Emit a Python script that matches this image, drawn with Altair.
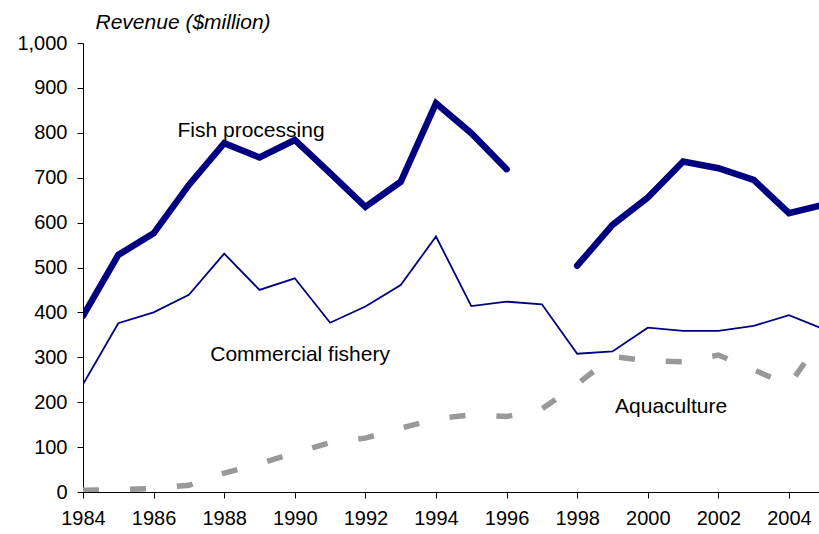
import altair as alt
import pandas as pd

# Revenue by sector, $million
years = list(range(1984, 2006))
fish_processing = [392, 528, 576, 684, 777, 745, 784, 710, 635, 691, 866, 799, 719,
                   None, 504, 595, 656, 736, 721, 695, 621, 640]
commercial_fishery = [240, 376, 400, 439, 531, 450, 476, 377, 413, 461, 569, 414, 424,
                      418, 308, 313, 366, 359, 359, 370, 394, 362]
aquaculture = [4, 5, 8, 15, 42, 63, 87, 110, 120, 142, 163, 172, 168,
               185, 240, 302, 292, 290, 305, 272, 238, 350]

# Inline series labels: (text, year, value)
label_text = ["Fish processing", "Commercial fishery", "Aquaculture"]
label_year = [1988.76, 1990.15, 2000.66]
label_value = [804, 305, 189]

FONT = "Liberation Sans"
NAVY = "#000080"
GREY = "#999999"
TICK_FS = 20
TEXT_FS = 21

# Fish processing has no 1997 figure, so split it into two runs
fp_rows = []
seg = 0
for y, v in zip(years, fish_processing):
    if v is None:
        seg += 1
        continue
    fp_rows.append({"year": y, "value": v, "seg": seg})
fp = pd.DataFrame(fp_rows)
cf = pd.DataFrame({"year": years, "value": commercial_fishery})
aq = pd.DataFrame({"year": years, "value": aquaculture})
labels = pd.DataFrame({"text": label_text, "year": label_year, "value": label_value})

x_scale = alt.Scale(domain=[1984, 2004.85], nice=False, zero=False)
y_scale = alt.Scale(domain=[0, 1000], nice=False)

x_axis = alt.Axis(
    values=list(range(1984, 2005)),
    labelExpr="datum.value % 2 == 0 ? datum.value : ''",
    grid=False, title=None, tickSize=6, labelPadding=10,
    labelFont=FONT, labelFontSize=TICK_FS, labelColor="#000",
    domainColor="#000", tickColor="#000", labelOverlap=False,
    labelFlush=False,
)
y_axis = alt.Axis(
    values=list(range(0, 1001, 100)), format=",.0f",
    grid=False, tickSize=6, labelPadding=10,
    labelFont=FONT, labelFontSize=TICK_FS, labelColor="#000",
    domainColor="#000", tickColor="#000",
    title="Revenue ($million)", titleAngle=0, titleAlign="left",
    titleBaseline="middle", titleX=12, titleY=-21,
    titleFont=FONT, titleFontSize=TEXT_FS, titleFontStyle="italic",
    titleFontWeight="normal", titleColor="#000",
)

X = alt.X("year:Q", scale=x_scale, axis=x_axis)
Y = alt.Y("value:Q", scale=y_scale, axis=y_axis)

aq_line = alt.Chart(aq).mark_line(
    color=GREY, strokeWidth=5.5, strokeDash=[16, 31], strokeCap="butt", clip=True
).encode(x=X, y=Y)

cf_line = alt.Chart(cf).mark_line(
    color=NAVY, strokeWidth=1.8, clip=True
).encode(x=X, y=Y)

fp_line = alt.Chart(fp).mark_line(
    color=NAVY, strokeWidth=6.5, strokeCap="round", strokeJoin="miter", clip=True
).encode(x=X, y=Y, detail="seg:N")

text = alt.Chart(labels).mark_text(
    font=FONT, fontSize=TEXT_FS, color="#000", align="center", baseline="middle"
).encode(x=alt.X("year:Q", scale=x_scale), y=alt.Y("value:Q", scale=y_scale), text="text:N")

chart = (
    alt.layer(aq_line, cf_line, fp_line, text)
    .properties(
        width=736, height=449,
        autosize=alt.AutoSizeParams(type="none"),
        padding={"left": 83, "top": 43, "right": 0, "bottom": 42},
        background="white",
    )
    .configure_view(stroke=None)
)

chart.save("out.html", embed_options={"renderer": "svg", "actions": False})
